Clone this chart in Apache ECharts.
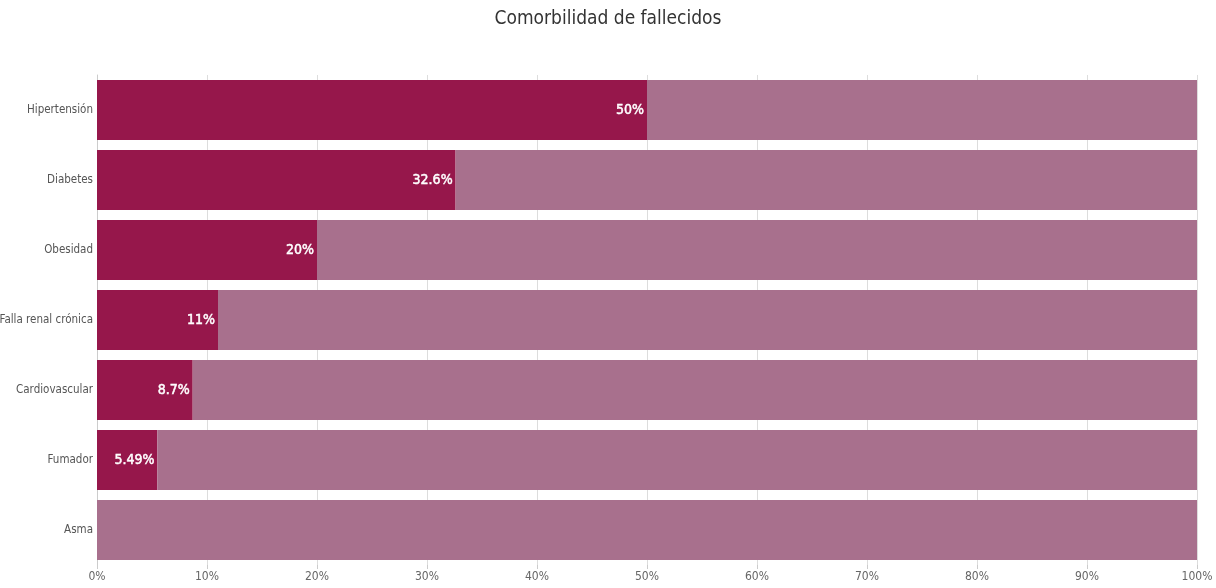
<!DOCTYPE html>
<html><head><meta charset="utf-8">
<script src="https://cdn.jsdelivr.net/npm/echarts@6/dist/echarts.min.js"></script>
<style>html,body{margin:0;padding:0;background:#fff}#c{width:1216px;height:588px}</style>
</head><body><div id="c"></div>
<script>
var categories = ["Hipertensión","Diabetes","Obesidad","Falla renal crónica","Cardiovascular","Fumador","Asma"];
var values = [50, 32.6, 20, 11, 8.7, 5.49, 0];
var labels = ["50%","32.6%","20%","11%","8.7%","5.49%",""];
var rest = values.map(function(v){ return +(100 - v).toFixed(2); });
var FONT = "'Liberation Sans Narrow', 'DejaVu Sans Condensed', 'Roboto', sans-serif";
var chart = echarts.init(document.getElementById('c'));
chart.setOption({
  animation:false,
  textStyle:{fontFamily:FONT},
  title:{text:'Comorbilidad de fallecidos',left:'center',top:5,textStyle:{fontFamily:FONT,fontSize:19,fontWeight:'normal',color:'#333'}},
  grid:{left:97,right:19,top:75,bottom:23,containLabel:false,outerBoundsMode:'none'},
  xAxis:{type:'value',min:0,max:100,interval:10,
    axisLabel:{formatter:'{value}%',color:'#666',fontSize:12,fontFamily:FONT,margin:6},
    axisLine:{show:false},axisTick:{show:true,length:4,lineStyle:{color:'#ccc'}},
    splitLine:{show:true,lineStyle:{color:'#ddd'}}},
  yAxis:{type:'category',data:categories,inverse:true,
    axisLabel:{color:'#555',fontSize:11.5,fontFamily:FONT,margin:4},
    axisLine:{show:true,lineStyle:{color:'#ccc'}},axisTick:{show:false}},
  series:[
    {type:'bar',stack:'a',data:values,barCategoryGap:'14.3%',
     itemStyle:{color:'#96174b'},
     label:{show:true,position:'insideRight',distance:3,color:'#fff',fontWeight:'normal',fontSize:14,fontFamily:FONT,
       textBorderColor:'#fff',textBorderWidth:0.5,
       formatter:function(p){return labels[p.dataIndex];}}},
    {type:'bar',stack:'a',data:rest,barCategoryGap:'14.3%',
     itemStyle:{color:'#a8708d'}}
  ]
});
</script></body></html>
